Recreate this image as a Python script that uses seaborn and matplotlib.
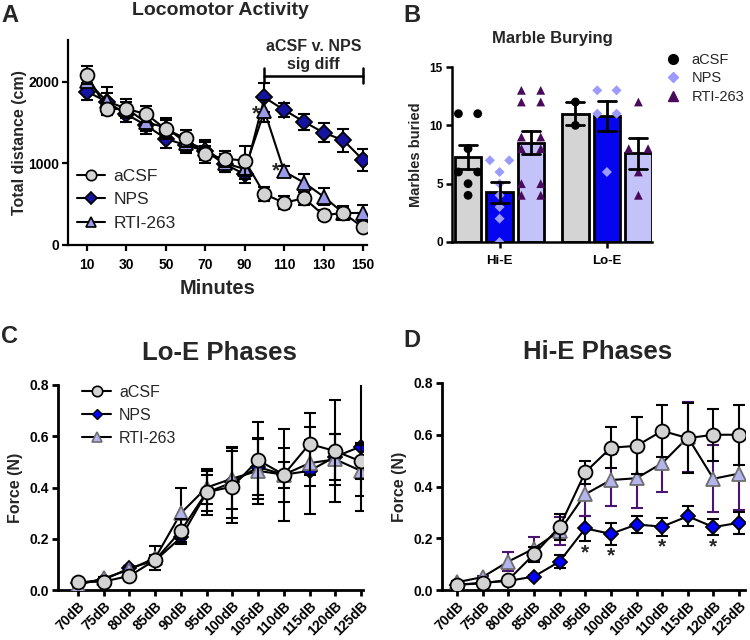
import numpy as np
import pandas as pd
import matplotlib
matplotlib.use("Agg")
import matplotlib.pyplot as plt
import seaborn as sns
from matplotlib.lines import Line2D

sns.set_theme(style="ticks")
plt.rcParams["font.family"] = ["Liberation Sans", "DejaVu Sans"]
plt.rcParams["font.weight"] = "bold"
plt.rcParams["axes.labelweight"] = "bold"

# ---------------- Data ----------------
# Panel A: Locomotor activity
minutes = [10, 20, 30, 40, 50, 60, 70, 80, 90, 100, 110, 120, 130, 140, 150]
loco_acsf = [2082, 1665, 1665, 1604, 1416, 1306, 1110, 1057, 1033, 624, 515, 575, 365, 392, 215]
loco_acsf_sem = [110, 70, 90, 100, 120, 100, 100, 100, 180, 90, 80, 80, 60, 60, 40]
loco_nps = [1878, 1755, 1600, 1465, 1300, 1224, 1150, 990, 865, 1806, 1653, 1510, 1375, 1283, 1041]
loco_nps_sem = [100, 100, 100, 110, 110, 100, 110, 100, 110, 175, 80, 100, 115, 140, 130]
loco_rti = [2010, 1760, 1670, 1500, 1440, 1255, 1180, 1000, 930, 1640, 900, 765, 592, 392, 392]
loco_rti_sem = [90, 170, 120, 110, 120, 100, 110, 110, 120, 130, 70, 110, 100, 90, 100]

# Panel B: Marble burying (individual animals)
marble_groups = ["Hi-E", "Lo-E"]
treatments = ["aCSF", "NPS", "RTI-263"]
hi_acsf = [11, 11, 8, 6, 6, 5, 4]
hi_nps = [7, 7, 6, 5, 4, 3, 2, 0]
hi_rti = [13, 13, 12, 12, 9, 9, 8, 8, 5, 5, 4, 4]
lo_acsf = [12, 10]
lo_nps = [13, 13, 11, 11, 6]
lo_rti = [12, 8, 8, 6, 4]

# Panels C / D: startle force
db_labels = ["70dB", "75dB", "80dB", "85dB", "90dB", "95dB", "100dB",
             "105dB", "110dB", "115dB", "120dB", "125dB"]
lo_acsf_f = [0.030, 0.033, 0.055, 0.117, 0.231, 0.382, 0.403, 0.507, 0.450, 0.570, 0.542, 0.502]
lo_acsf_sem = [0.004, 0.004, 0.008, 0.020, 0.045, 0.090, 0.140, 0.150, 0.180, 0.120, 0.200, 0.070]
lo_nps_f = [0.028, 0.040, 0.085, 0.115, 0.205, 0.380, 0.420, 0.480, 0.450, 0.465, 0.520, 0.560]
lo_nps_sem = [0.004, 0.005, 0.010, 0.015, 0.025, 0.070, 0.140, 0.110, 0.105, 0.170, 0.090, 0.250]
lo_rti_f = [0.020, 0.045, 0.080, 0.125, 0.300, 0.400, 0.435, 0.465, 0.450, 0.495, 0.510, 0.465]
lo_rti_sem = [0.004, 0.006, 0.010, 0.045, 0.100, 0.065, 0.120, 0.130, 0.050, 0.090, 0.100, 0.100]

hi_acsf_f = [0.020, 0.026, 0.039, 0.138, 0.244, 0.455, 0.550, 0.557, 0.615, 0.587, 0.600, 0.600]
hi_acsf_sem = [0.004, 0.004, 0.005, 0.030, 0.050, 0.045, 0.080, 0.110, 0.100, 0.135, 0.100, 0.115]
hi_nps_f = [0.020, 0.028, 0.035, 0.052, 0.110, 0.238, 0.217, 0.253, 0.245, 0.285, 0.243, 0.260]
hi_nps_sem = [0.004, 0.004, 0.005, 0.006, 0.025, 0.048, 0.042, 0.032, 0.035, 0.038, 0.030, 0.042]
hi_rti_f = [0.030, 0.050, 0.110, 0.160, 0.228, 0.370, 0.425, 0.432, 0.490, 0.590, 0.430, 0.450]
hi_rti_sem = [0.004, 0.006, 0.035, 0.045, 0.055, 0.085, 0.100, 0.115, 0.110, 0.135, 0.130, 0.140]
hi_sig = [False, False, False, False, False, True, True, False, True, False, True, False]

# ---------------- Figure ----------------
W, H = 750, 640
fig = plt.figure(figsize=(W / 100, H / 100), dpi=100)


def axes_px(l, t, r, b):
    return fig.add_axes([l / W, 1 - b / H, (r - l) / W, (b - t) / H])


def style_ax(ax, lw=1.6, labelsize=8.5):
    sns.despine(ax=ax)
    for s in ["left", "bottom"]:
        ax.spines[s].set_linewidth(lw)
        ax.spines[s].set_color("black")
    ax.tick_params(direction="out", length=4.5, width=lw, colors="black",
                   labelsize=labelsize, pad=2)


axA = axes_px(68, 40, 367, 245)
axB = axes_px(452, 67, 652, 242)
axC = axes_px(58, 385, 363, 590)
axD = axes_px(442, 383, 745, 590)

# ---------- Panel A ----------
a_series = [
    ("NPS", loco_nps, loco_nps_sem, "D", "#1414a0", "black", 8.5),
    ("RTI-263", loco_rti, loco_rti_sem, "^", "#9a9ae8", "black", 9.5),
    ("aCSF", loco_acsf, loco_acsf_sem, "o", "#d3d3d3", "black", 10),
]
for i, (name, y, e, mk, fc, ec, ms) in enumerate(a_series):
    axA.errorbar(minutes, y, yerr=e, fmt="none", ecolor="black", elinewidth=1.5,
                 capsize=4.5, capthick=1.5, zorder=2 + i)
    sns.lineplot(x=minutes, y=y, ax=axA, color="black", linewidth=1.5, marker=mk,
                 markersize=ms, markerfacecolor=fc, markeredgecolor=ec,
                 markeredgewidth=1.3, zorder=2.5 + i, legend=False)
axA.set_xlim(0.36, 152)
axA.set_ylim(0, 2510)
axA.set_xticks(minutes[::2])
axA.set_yticks([0, 1000, 2000])
style_ax(axA, lw=1.6, labelsize=10)
axA.tick_params(axis="x", pad=5)
axA.set_xlabel("Minutes", fontsize=14.5, labelpad=5)
axA.set_ylabel("Total distance (cm)", fontsize=11.5, labelpad=1)
# significance bracket
axA.plot([100, 150], [2075, 2075], color="black", lw=1.8)
axA.plot([100, 100], [1985, 2165], color="black", lw=1.8)
axA.plot([150, 150], [1985, 2165], color="black", lw=1.8)
axA.text(125, 2430, "aCSF v. NPS", ha="center", va="center", fontsize=11.5)
axA.text(125, 2215, "sig diff", ha="center", va="center", fontsize=11.5)
axA.text(95.5, 1600, "*", ha="center", va="center", fontsize=15)
axA.text(106, 910, "*", ha="center", va="center", fontsize=15)
a_handles = [
    Line2D([], [], color="black", lw=1.5, marker="o", markersize=7.5,
           markerfacecolor="#d3d3d3", markeredgecolor="black", markeredgewidth=1.2),
    Line2D([], [], color="black", lw=1.5, marker="D", markersize=6.5,
           markerfacecolor="#1414a0", markeredgecolor="black", markeredgewidth=1.2),
    Line2D([], [], color="black", lw=1.5, marker="^", markersize=7.5,
           markerfacecolor="#9a9ae8", markeredgecolor="black", markeredgewidth=1.2),
]
axA.legend(a_handles, ["aCSF", "NPS", "RTI-263"], loc="center left",
           bbox_to_anchor=(0.03, 0.22), frameon=False, handlelength=1.6,
           handletextpad=0.5, labelspacing=0.5, borderpad=0, borderaxespad=0,
           prop={"weight": "normal", "size": 12.5})

# ---------- Panel B ----------
b_values = {("Hi-E", "aCSF"): hi_acsf, ("Hi-E", "NPS"): hi_nps, ("Hi-E", "RTI-263"): hi_rti,
            ("Lo-E", "aCSF"): lo_acsf, ("Lo-E", "NPS"): lo_nps, ("Lo-E", "RTI-263"): lo_rti}
rows = []
for (g, t), vals in b_values.items():
    for v in vals:
        rows.append({"Group": g, "Treatment": t, "Marbles": v})
marble_df = pd.DataFrame(rows)

bar_colors = {"aCSF": "#d4d4d4", "NPS": "#0505f0", "RTI-263": "#c3c3fa"}
pt_style = {"aCSF": ("o", "#000000", 40),
            "NPS": ("D", "#9a9aff", 26),
            "RTI-263": ("^", "#4a0a5c", 40)}
hue_width = 0.88
sns.barplot(data=marble_df, x="Group", y="Marbles", hue="Treatment",
            order=marble_groups, hue_order=treatments, palette=bar_colors,
            saturation=1, errorbar="se", capsize=0.5,
            err_kws={"color": "black", "linewidth": 2, "zorder": 5},
            edgecolor="black", linewidth=2, width=hue_width, gap=0.15,
            legend=False, ax=axB, zorder=1)
for gi, g in enumerate(marble_groups):
    for ti, t in enumerate(treatments):
        vals = b_values[(g, t)]
        center = gi + (ti - 1) * hue_width / 3
        xs, ys = [], []
        for v in sorted(set(vals)):
            k = vals.count(v)
            for j in range(k):
                xs.append(center + (j - (k - 1) / 2) * 0.18)
                ys.append(v)
        mk, col, s = pt_style[t]
        sns.scatterplot(x=xs, y=ys, ax=axB, marker=mk, color=col, s=s,
                        edgecolor="none", linewidth=0, zorder=3, legend=False)
axB.set_xlim(-0.443, 1.42)
axB.set_ylim(0, 15)
axB.set_yticks([0, 5, 10, 15])
axB.set_xlabel("")
axB.set_ylabel("Marbles buried", fontsize=10.5, labelpad=5)
style_ax(axB, lw=1.8, labelsize=8.5)
axB.tick_params(axis="x", labelsize=9.5, pad=5)
b_handles = [Line2D([], [], ls="none", marker=pt_style[t][0], color=pt_style[t][1],
                    markersize=7 if t != "NPS" else 5.5) for t in treatments]
axB.legend(b_handles, treatments, loc="upper left", bbox_to_anchor=(1.03, 1.08),
           frameon=False, handletextpad=0.3, labelspacing=0.3, borderpad=0,
           borderaxespad=0, prop={"weight": "normal", "size": 10.5})

# ---------- Panels C and D ----------
idx = list(range(len(db_labels)))


def force_panel(ax, series, xlim):
    for i, (y, e, mk, fc, ec, ms, ecol) in enumerate(series):
        ax.errorbar(idx, y, yerr=e, fmt="none", ecolor=ecol, elinewidth=1.5,
                    capsize=4.5, capthick=1.5, zorder=2 + i)
        sns.lineplot(x=idx, y=y, ax=ax, color="black", linewidth=1.5, marker=mk,
                     markersize=ms, markerfacecolor=fc, markeredgecolor=ec,
                     markeredgewidth=1.3, zorder=2.5 + i, legend=False)
    ax.set_xlim(*xlim)
    ax.set_ylim(0, 0.8)
    ax.set_yticks([0, 0.2, 0.4, 0.6, 0.8])
    ax.set_yticklabels(["0.0", "0.2", "0.4", "0.6", "0.8"])
    ax.set_xticks(idx)
    ax.set_xticklabels(db_labels, rotation=45, ha="right", rotation_mode="anchor")
    ax.set_xlabel("")
    ax.set_ylabel("Force (N)", fontsize=11.5, labelpad=5)
    style_ax(ax, lw=2.0, labelsize=10)


force_panel(axC, [
    (lo_nps_f, lo_nps_sem, "D", "#0000ff", "black", 7, "black"),
    (lo_rti_f, lo_rti_sem, "^", "#b4b4ee", "#6e6e6e", 9.5, "black"),
    (lo_acsf_f, lo_acsf_sem, "o", "#d3d3d3", "black", 10, "black"),
], (-0.78, 11.08))
force_panel(axD, [
    (hi_nps_f, hi_nps_sem, "D", "#0000ff", "black", 7, "black"),
    (hi_rti_f, hi_rti_sem, "^", "#b4b4ee", "#6e6e6e", 9.5, "#4a1570"),
    (hi_acsf_f, hi_acsf_sem, "o", "#d3d3d3", "black", 10, "black"),
], (-0.585, 11.23))
for i, sig in enumerate(hi_sig):
    if sig:
        axD.text(i, hi_nps_f[i] - hi_nps_sem[i] - 0.045, "*", ha="center",
                 va="center", fontsize=15)

c_handles = [
    Line2D([], [], color="black", lw=1.5, marker="o", markersize=7.5,
           markerfacecolor="#d3d3d3", markeredgecolor="black", markeredgewidth=1.2),
    Line2D([], [], color="black", lw=1.5, marker="D", markersize=5.5,
           markerfacecolor="#0000ff", markeredgecolor="black", markeredgewidth=1.0),
    Line2D([], [], color="black", lw=1.5, marker="^", markersize=7.5,
           markerfacecolor="#b4b4ee", markeredgecolor="#6e6e6e", markeredgewidth=1.2),
]
axC.legend(c_handles, ["aCSF", "NPS", "RTI-263"], loc="upper left",
           bbox_to_anchor=(0.08, 1.0), frameon=False, handlelength=1.8,
           handletextpad=0.5, labelspacing=0.5, borderpad=0, borderaxespad=0,
           prop={"weight": "normal", "size": 11.5})

# ---------- Titles and panel letters ----------
fig.text(220 / W, 1 - 15 / H, "Locomotor Activity", ha="center", va="baseline", fontsize=14)
fig.text(552 / W, 1 - 43 / H, "Marble Burying", ha="center", va="baseline", fontsize=12)
fig.text(219 / W, 1 - 360 / H, "Lo-E Phases", ha="center", va="baseline", fontsize=18.5)
fig.text(598 / W, 1 - 359 / H, "Hi-E Phases", ha="center", va="baseline", fontsize=18.5)
for lab, x, y in [("A", 1, 22), ("B", 403, 22), ("C", 1, 343), ("D", 403, 347)]:
    fig.text(x / W, 1 - y / H, lab, ha="left", va="baseline", fontsize=17)

fig.savefig("out.png", dpi=100)
